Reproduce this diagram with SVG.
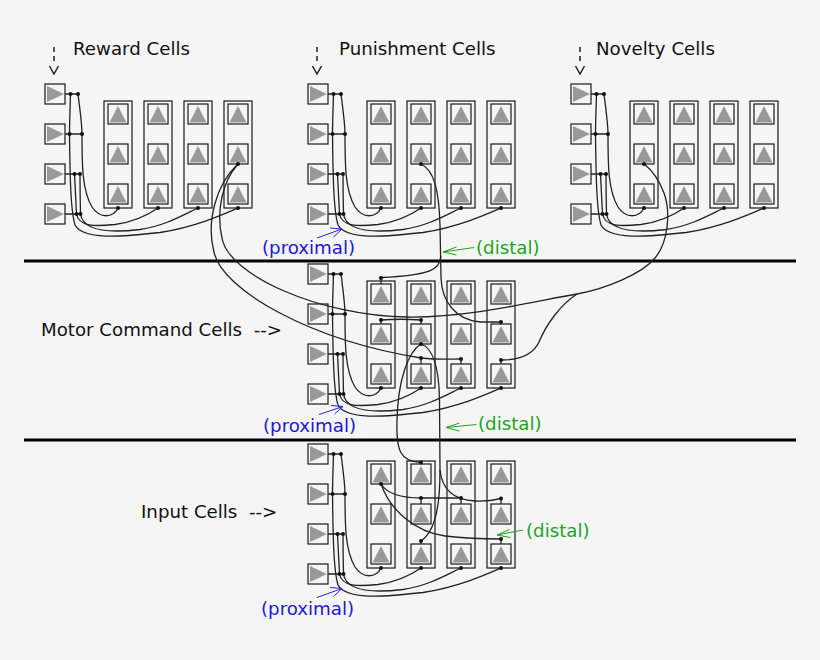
<svg xmlns="http://www.w3.org/2000/svg" width="820" height="660" viewBox="0 0 820 660">
<style>
.bx{fill:none;stroke:#1a1a1a;stroke-width:1.2}
.tri{fill:#999}
.ln{fill:none;stroke:#222;stroke-width:1.3}
.dot{fill:#111}
.sep{stroke:#000;stroke-width:3}
.dash{fill:none;stroke:#222;stroke-width:1.5}
.lbl{font-family:"DejaVu Sans",Verdana,sans-serif;font-size:18.2px;fill:#111}
.blue{fill:#1a1ad6}
.green{fill:#1fa31f}
.ab{fill:none;stroke:#2222dd;stroke-width:1}
.ag{fill:none;stroke:#1fa31f;stroke-width:1}
</style>
<defs>
<g id="ic"><rect class="bx" x="0" y="0" width="20" height="20"/><polygon class="tri" points="2,2 2,18 19,10"/></g>
<g id="cb"><rect class="bx" x="0" y="0" width="20" height="20"/><polygon class="tri" points="10,2 1.5,18.5 18.5,18.5"/></g>
<g id="col"><rect class="bx" x="0" y="0" width="28" height="107"/><use href="#cb" x="4" y="3"/><use href="#cb" x="4" y="43"/><use href="#cb" x="4" y="83"/></g>
<g id="net">
<use href="#ic" x="45" y="84"/><use href="#ic" x="45" y="124"/><use href="#ic" x="45" y="164"/><use href="#ic" x="45" y="204"/>
<use href="#col" x="104" y="101"/><use href="#col" x="144" y="101"/><use href="#col" x="184" y="101"/><use href="#col" x="224" y="101"/>
<path class="ln" d="M65,94H78M65,134H82M65,174H80M65,214H80.5"/>
<path class="ln" d="M78,94 C80,110 82,124 82,134 C82,165 82,190 92,207 C100,219 113,218 118,208"/>
<path class="ln" d="M74.5,174 C75.5,192 76.2,206 76.5,214 C79,227 95,226.5 115,224.5 C133,222 148,215 158,208"/>
<path class="ln" d="M80,174 C80,192 80.3,206 80.5,214 C83,232 110,233 140,229.5 C165,226 185,214 198,208"/>
<path class="ln" d="M70.5,94 C70,110 69.5,124 69.5,134 C70,175 70.5,210 75,225 C83,240 120,237 160,232.5 C195,227 222,215 238,208"/>
<g class="dot">
<circle cx="70.5" cy="94" r="2"/><circle cx="78" cy="94" r="2"/>
<circle cx="69.5" cy="134" r="2"/><circle cx="82" cy="134" r="2"/>
<circle cx="74.5" cy="174" r="2"/><circle cx="80" cy="174" r="2"/>
<circle cx="76.5" cy="214" r="2"/><circle cx="80.5" cy="214" r="2"/>
<circle cx="118" cy="208" r="2"/><circle cx="158" cy="208" r="2"/><circle cx="198" cy="208" r="2"/><circle cx="238" cy="208" r="2"/>
</g>
</g>
<g id="drop"><path class="dash" d="M54,47V62" stroke-dasharray="5,4"/><path class="dash" d="M49.5,66L54,74L58.5,66"/></g>
</defs>
<rect x="0" y="0" width="820" height="660" fill="#f5f5f5"/>

<g id="separators">
<line class="sep" x1="24" y1="261" x2="796" y2="261"/>
<line class="sep" x1="24" y1="440" x2="796" y2="440"/>
</g>

<g id="reward-cells"><use href="#net"/><use href="#drop"/><text class="lbl" x="73" y="55">Reward Cells</text></g>
<g id="punishment-cells"><use href="#net" x="263" y="0"/><use href="#drop" x="263" y="0"/><text class="lbl" x="339" y="55">Punishment Cells</text></g>
<g id="novelty-cells"><use href="#net" x="526" y="0"/><use href="#drop" x="526" y="0"/><text class="lbl" x="596" y="55">Novelty Cells</text></g>
<g id="motor-command-cells"><use href="#net" x="263" y="180"/><text class="lbl" x="41" y="336" xml:space="preserve">Motor Command Cells  --&gt;</text></g>
<g id="input-cells"><use href="#net" x="263" y="360"/><text class="lbl" x="141" y="518" xml:space="preserve">Input Cells  --&gt;</text></g>

<g id="connectors">
<path class="ln" d="M238,164 C222,182 216,212 222,238 C228,275 320,316 407,317 C470,318 540,300 577,294 C605,289 642,274 655,258 C668,243 671,212 664,193 C659,180 652,170 644,164"/>
<path class="ln" d="M577,294 C560,305 546,325 539,342 C533,355 520,360 501,360"/>
<path class="ln" d="M238,164 C216,184 206,222 214,252 C222,290 310,340 421,358 C440,360 450,359 461,359"/>
<path class="ln" d="M421,164 C434,170 439,190 440,225 L441,278 C442,302 456,320 480,322 L501,322"/>
<path class="ln" d="M440.8,256 C440.5,270 430,275 381,277.5"/>
<path class="ln" d="M381,320 Q401,318.5 421,320"/>
<path class="ln" d="M421,344 C408,352 398,380 397,420 C396,450 400,462 421,462.5"/>
<path class="ln" d="M421,344 C433,348 439,368 439.5,400 L440,470"/>
<path class="ln" d="M440,470 C442,490 455,500 475,501 C488,501.5 495,500 501,498.5"/>
<path class="ln" d="M440,470 C440,500 437,530 421,541"/>
<path class="ln" d="M381,484 C388,495 405,498 421,498 L461,498"/>
<path class="ln" d="M381,484 C390,510 415,532 445,536 C470,539 490,539 501,539"/>
<path class="ln" d="M381,278V284M381,320V324M421,320V324M501,322V324M421,358V364M461,359V364M501,360V364M421,462.5V464M421,498V504M461,498V504M501,498.5V504M421,541V544M501,539V544"/>
<g class="dot">
<circle cx="238" cy="164" r="2"/><circle cx="421" cy="164" r="2"/><circle cx="644" cy="164" r="2"/>
<circle cx="381" cy="278" r="2"/><circle cx="381" cy="320" r="2"/><circle cx="421" cy="320" r="2"/><circle cx="501" cy="322" r="2"/>
<circle cx="421" cy="344" r="2"/><circle cx="421" cy="358" r="2"/><circle cx="461" cy="359" r="2"/><circle cx="501" cy="360" r="2"/>
<circle cx="421" cy="462.5" r="2"/><circle cx="381" cy="484" r="2"/><circle cx="421" cy="498" r="2"/><circle cx="461" cy="498" r="2"/><circle cx="501" cy="498.5" r="2"/>
<circle cx="421" cy="541" r="2"/><circle cx="501" cy="539" r="2"/>
</g>
</g>

<g id="annotations">
<text class="lbl blue" x="262" y="254">(proximal)</text>
<text class="lbl blue" x="263" y="432">(proximal)</text>
<text class="lbl blue" x="261" y="615">(proximal)</text>
<path class="ab" d="M317,238L342,229L330,228M342,229L333.5,237"/>
<path class="ab" d="M319,414.5L343,406.5L331,405.5M343,406.5L334.5,414"/>
<path class="ab" d="M317,597.5L342,588.5L330,587.5M342,588.5L333.5,596.5"/>
<text class="lbl green" x="476" y="254">(distal)</text>
<text class="lbl green" x="478" y="430">(distal)</text>
<text class="lbl green" x="526" y="537">(distal)</text>
<path class="ag" d="M474,247.5L443,252L456.5,247M443,252L456.5,255"/>
<path class="ag" d="M476.5,424.5L446,427.5L459.5,423M446,427.5L459.5,431"/>
<path class="ag" d="M523,530L497,535L509.5,529.5M497,535L510.5,537.5"/>
</g>
</svg>
